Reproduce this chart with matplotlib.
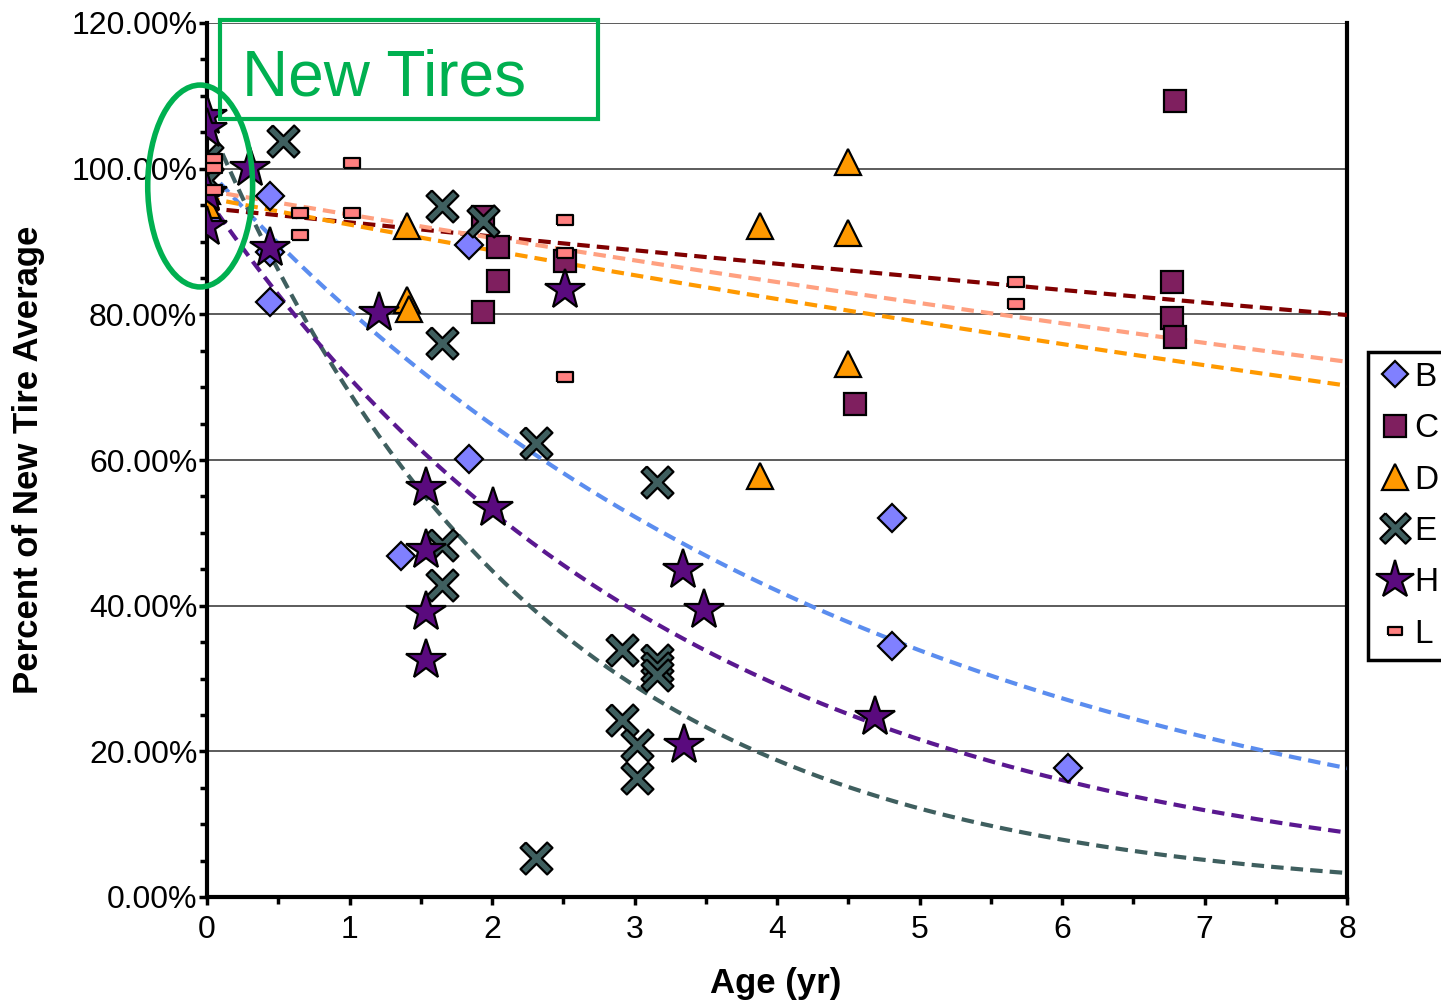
import numpy as np
import matplotlib
matplotlib.use("Agg")
import matplotlib.pyplot as plt
from matplotlib.patches import Rectangle, Ellipse
from matplotlib.ticker import MultipleLocator, FuncFormatter

plt.rcParams['font.family'] = ['Liberation Sans', 'DejaVu Sans']

# ---- data (age in years, percent of new tire average) ----
b_age = [0.0, 0.0, 0.44, 0.44, 0.44, 1.84, 1.84, 1.36, 4.81, 4.81, 6.04]
b_pct = [100.0, 93.0, 96.3, 88.5, 81.7, 89.5, 60.1, 46.8, 52.0, 34.5, 17.7]

c_age = [6.79, 1.94, 2.04, 2.04, 1.94, 2.51, 4.55, 6.77, 6.77, 6.79]
c_pct = [109.3, 93.4, 89.3, 84.6, 80.3, 87.3, 67.7, 84.4, 79.5, 76.9]

d_age = [0.0, 0.0, 4.50, 3.88, 4.50, 1.40, 1.40, 1.42, 4.50, 3.88]
d_pct = [97.0, 95.0, 100.9, 92.1, 91.2, 92.1, 82.0, 80.8, 73.2, 57.8]

e_age = [0.0, 0.0, 0.53, 1.65, 1.94, 1.65, 2.31, 3.16, 1.65, 1.65, 2.91, 3.16,
         3.16, 3.16, 2.91, 3.02, 3.02, 2.31]
e_pct = [101.5, 98.5, 103.8, 94.9, 92.8, 76.1, 62.3, 57.0, 48.3, 42.8, 33.9, 32.5,
         31.4, 30.5, 24.3, 20.9, 16.3, 5.4]

h_age = [0.0, 0.0, 0.0, 0.0, 0.30, 0.44, 1.21, 2.51, 1.54, 1.54, 1.54, 1.54,
         2.01, 3.34, 3.49, 3.35, 4.69]
h_pct = [107.2, 105.4, 96.6, 92.0, 100.1, 89.1, 80.2, 83.3, 56.2, 47.6, 39.1, 32.5,
         53.4, 44.9, 39.4, 20.9, 24.7]

l_age = [0.05, 0.05, 0.05, 1.02, 1.02, 0.65, 0.65, 2.51, 2.51, 2.51, 5.68, 5.68]
l_pct = [101.3, 100.1, 97.1, 100.8, 93.9, 93.9, 90.9, 93.0, 88.4, 71.4, 84.5, 81.4]

# exponential trendlines y = a * exp(-k * age)
trend_names = ["B", "C", "D", "E", "H", "L"]
trend_a = [100.0, 94.6, 96.0, 107.0, 96.0, 97.0]
trend_k = [0.2165, 0.0211, 0.0391, 0.435, 0.298, 0.0347]

# slim "x" marker (rotated plus shape)
w = 0.2
plus = np.array([(w, 1), (w, w), (1, w), (1, -w), (w, -w), (w, -1), (-w, -1), (-w, -w),
                 (-1, -w), (-1, w), (-w, w), (-w, 1), (w, 1)])
rot = np.array([[np.cos(np.pi / 4), -np.sin(np.pi / 4)], [np.sin(np.pi / 4), np.cos(np.pi / 4)]])
x_marker = plus @ rot.T
rect_marker = [(-1, -0.6), (1, -0.6), (1, 0.6), (-1, 0.6), (-1, -0.6)]

series = [
    ("B", b_age, b_pct, dict(marker="D", ms=14, mfc="#8080FF")),
    ("C", c_age, c_pct, dict(marker="s", ms=16, mfc="#7F1F5F")),
    ("D", d_age, d_pct, dict(marker="^", ms=19, mfc="#FF9900")),
    ("E", e_age, e_pct, dict(marker=x_marker, ms=23, mfc="#3F5F5F")),
    ("H", h_age, h_pct, dict(marker="*", ms=30, mfc="#5A0A7E")),
    ("L", l_age, l_pct, dict(marker=rect_marker, ms=11, mfc="#FF8080")),
]
line_cols = {"B": "#5B8DEF", "C": "#800000", "D": "#FF9900",
             "E": "#3F5F5F", "H": "#5A1890", "L": "#FFA080"}

fig = plt.figure(figsize=(14.41, 10.02), dpi=100)
ax = fig.add_axes([207 / 1441, 1 - 897 / 1002, 1140 / 1441, 874 / 1002])

handles = []
for name, xs, ys, st in series:
    h, = ax.plot(xs, ys, ls="none", mec="black", mew=1.6, zorder=4, label=name, **st)
    handles.append(h)

xx = np.linspace(0, 8, 300)
for name, a, k in zip(trend_names, trend_a, trend_k):
    ax.plot(xx, a * np.exp(-k * xx), ls=(0, (3.0, 1.7)), lw=3.0, color=line_cols[name], zorder=3)

ax.set_xlim(0, 8)
ax.set_ylim(0, 120)
ax.yaxis.set_major_locator(MultipleLocator(20))
ax.yaxis.set_minor_locator(MultipleLocator(5))
ax.xaxis.set_major_locator(MultipleLocator(1))
ax.xaxis.set_minor_locator(MultipleLocator(0.5))
ax.yaxis.set_major_formatter(FuncFormatter(lambda v, p: f"{v:.2f}%"))
ax.tick_params(axis="both", which="major", direction="out", length=6, width=2.5, labelsize=23)
ax.tick_params(axis="both", which="minor", direction="out", length=5, width=2.5)
ax.tick_params(axis="y", pad=1)
ax.tick_params(axis="x", pad=7)

ax.grid(axis="y", color="#404040", lw=1.2, zorder=1)
ax.yaxis.get_gridlines()[-1].set_visible(False)
ax.set_axisbelow(True)
for s in ["left", "bottom", "right"]:
    ax.spines[s].set_linewidth(3)
ax.spines["top"].set_visible(False)

ax.set_ylabel("Percent of New Tire Average", fontsize=25, fontweight="bold")
ax.set_xlabel("Age (yr)", fontsize=25, fontweight="bold")
ax.yaxis.set_label_coords(-0.142, 0.5)
ax.xaxis.set_label_coords(0.499, -0.080)

# "New Tires" callout
ax.add_patch(Rectangle((0.0114, 0.890), 0.332, 0.1134, transform=ax.transAxes, fill=False,
                       ec="#00B050", lw=3, clip_on=False, zorder=6))
ax.text(0.0307, 0.9165, "New Tires", transform=ax.transAxes, fontsize=46, color="#00B050",
        va="baseline", ha="left", zorder=6)
ax.add_patch(Ellipse((-0.006, 0.8135), 0.092, 0.231, transform=ax.transAxes, fill=False,
                     ec="#00B050", lw=4, clip_on=False, zorder=6))

leg = fig.legend(handles=handles, loc="upper left", bbox_to_anchor=(1368 / 1441, 1 - 352 / 1002),
                 fontsize=24, numpoints=1, handlelength=1.0, handletextpad=0.1,
                 borderpad=0.3, labelspacing=0.61, borderaxespad=0, fancybox=False,
                 framealpha=1, edgecolor="black")
leg.get_frame().set_linewidth(2.5)
for lh in leg.legend_handles:
    lh.set_markersize(lh.get_markersize() * 0.95)

fig.savefig("out.png", dpi=100)
